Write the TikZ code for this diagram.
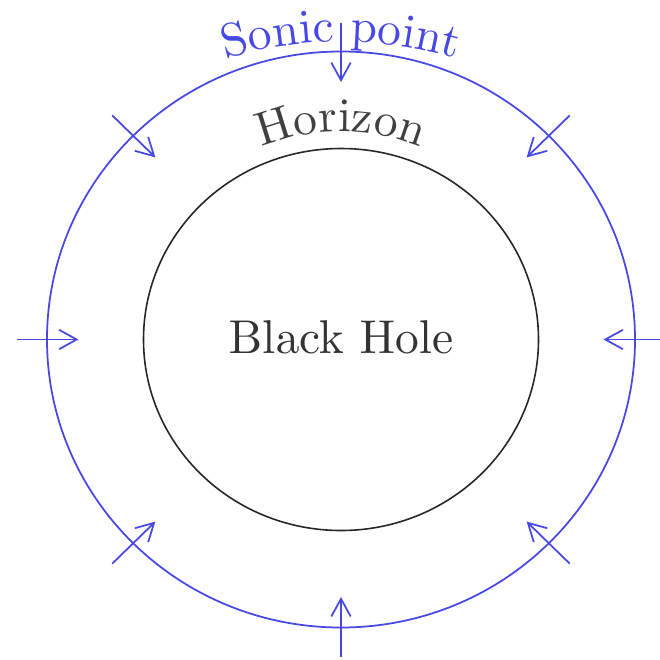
\documentclass[tikz,border=0pt]{standalone}
\usetikzlibrary{calc,arrows.meta,decorations.text}
\definecolor{myBlue}{RGB}{72,72,228}
\font\myRoman=cmr10 at 27pt
\tikzset{
myHorizon/.style={draw=black!85, line width=0.9pt}
, mySonic/.style={draw=myBlue, line width=1pt}
, myFlow/.style={-{Straight Barb[length=10pt,width=11pt]}, draw=myBlue, line width=1pt}
, myLabel/.style={font=\myRoman}
}

\begin{document}
\begin{tikzpicture}
	\useasboundingbox (-6.82,-6.39) rectangle (6.38,6.79);
	% circles
	\draw[mySonic] (0,0) ellipse [x radius=5.88, y radius=5.76];
	\draw[myHorizon] (0,0) ellipse [x radius=3.95, y radius=3.82];
	% black hole
	\node[myLabel, text=black!80, anchor=base] (BH) at (0,-0.27) {Black Hole};
	% labels along the circles
	\path[decorate, decoration={text along path, text align=center,
		text={|\myRoman\color{black!75}|Horizon}}]
		(130:4.16) arc [start angle=130, end angle=50, radius=4.16];
	\path[decorate, decoration={text along path, text align=center,
		text={|\myRoman\color{myBlue}|Sonic point}}]
		($(0,-2.3)+(115:8.25)$) arc [start angle=115, end angle=65, radius=8.25];
	% inflow
	\foreach \a in {0,45,...,315} {
		\coordinate (out\a) at ({6.47*cos(\a)},{6.34*sin(\a)});
		\coordinate (in\a) at ({5.25*cos(\a)},{5.15*sin(\a)});
		\draw[myFlow] (out\a) -- (in\a);
	}
\end{tikzpicture}
\end{document}
